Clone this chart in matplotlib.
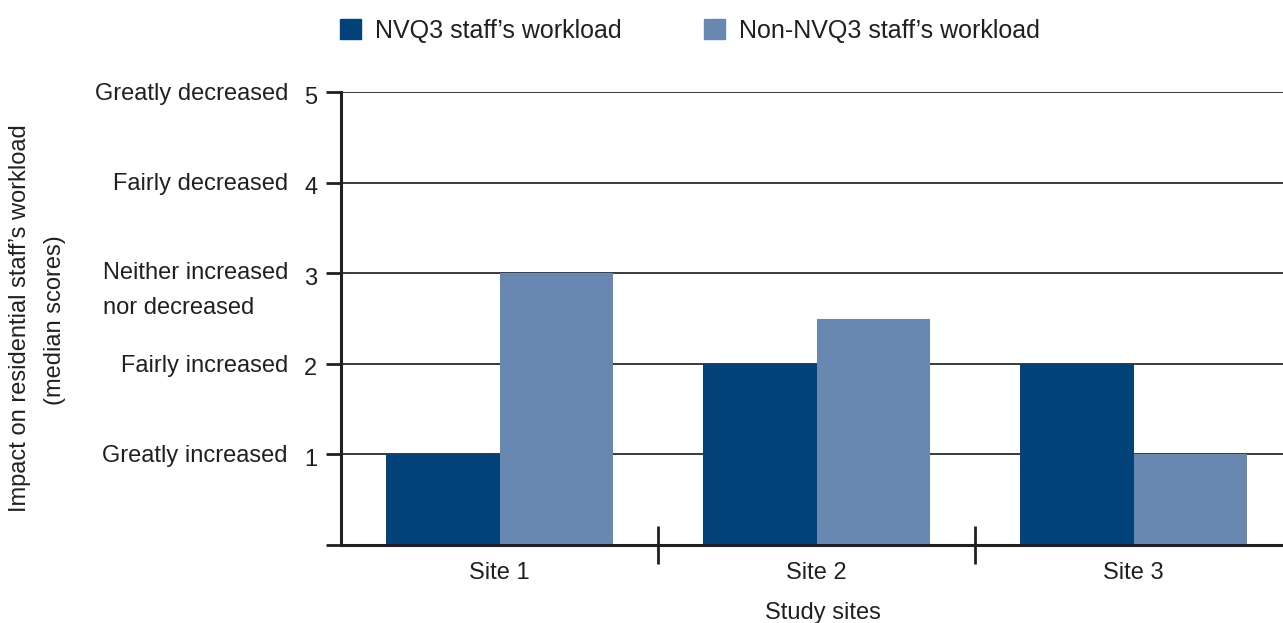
import matplotlib
matplotlib.use("Agg")
import matplotlib.pyplot as plt
import matplotlib.transforms as mtransforms
from matplotlib.patches import Patch
import numpy as np

plt.rcParams['font.family'] = ['Liberation Sans', 'DejaVu Sans']

sites = ["Site 1", "Site 2", "Site 3"]
nvq3 = [1, 2, 2]
non_nvq3 = [3, 2.5, 1]
series_names = ["NVQ3 staff\u2019s workload", "Non-NVQ3 staff\u2019s workload"]
ytick_vals = [1, 2, 3, 4, 5]
ytick_text = ["Greatly increased", "Fairly increased", "Neither increased\nnor decreased",
              "Fairly decreased", "Greatly decreased"]

c_dark = "#03437A"
c_light = "#6888B2"
txt = "#231F20"
FS = 17

W, H = 1283, 623
fig = plt.figure(figsize=(W/100, H/100), dpi=100)
ax = fig.add_axes([341/W, 1-545/H, (1292-341)/W, (545-92)/H])

x = np.arange(len(sites))
bw = 0.357
ax.bar(x - bw/2, nvq3, bw, color=c_dark, zorder=3)
ax.bar(x + bw/2, non_nvq3, bw, color=c_light, zorder=3)

ax.set_xlim(-0.5, len(sites) - 0.5)
ax.set_ylim(0, 5)

for v in ytick_vals:
    ax.axhline(v, color="#3a3a3a", lw=1.4, zorder=1)

ax.set_yticks([0] + ytick_vals)
ax.set_yticklabels([""] + [str(v) for v in ytick_vals], fontsize=FS, color=txt)
ax.tick_params(axis='y', direction='out', length=11, width=2, color=txt, pad=6)
shift = mtransforms.ScaledTranslation(0, -3/100, fig.dpi_scale_trans)
for lab in ax.get_yticklabels():
    lab.set_transform(lab.get_transform() + shift)

ax.set_xticks(x)
ax.set_xticklabels(sites, fontsize=FS, color=txt)
ax.tick_params(axis='x', which='major', length=0, pad=12)
ax.set_xticks(x[:-1] + 0.5, minor=True)
ax.tick_params(axis='x', which='minor', direction='inout', length=27, width=2, color=txt)

for s in ['top', 'right']:
    ax.spines[s].set_visible(False)
for s in ['left', 'bottom']:
    ax.spines[s].set_linewidth(2.2)
    ax.spines[s].set_color(txt)
    ax.spines[s].set_zorder(4)

trans = mtransforms.blended_transform_factory(fig.transFigure, ax.transData)
for v, t in zip(ytick_vals, ytick_text):
    if "\n" in t:
        ax.text(288/W, v + 0.12, t, transform=trans, ha='right', va='top',
                multialignment='left', fontsize=FS, color=txt, linespacing=1.75)
    else:
        ax.text(288/W, v - 0.02, t, transform=trans, ha='right', va='center',
                fontsize=FS, color=txt)

fig.text(823/W, 1-613/H, "Study sites", ha='center', va='center', fontsize=FS, color=txt)
fig.text(20/W, 1-318/H, "Impact on residential staff\u2019s workload", rotation=90,
         ha='center', va='center', fontsize=FS, color=txt)
fig.text(55/W, 1-320/H, "(median scores)", rotation=90,
         ha='center', va='center', fontsize=FS, color=txt)

handles = [Patch(color=c_dark), Patch(color=c_light)]
fig.legend(handles, series_names, loc='center left', bbox_to_anchor=(340/W, 1-31/H),
           ncol=2, frameon=False, fontsize=18, handlelength=0.85, handleheight=0.85,
           handletextpad=0.55, columnspacing=3.3, labelcolor=txt,
           borderpad=0, borderaxespad=0)

fig.savefig("out.png", dpi=100)
